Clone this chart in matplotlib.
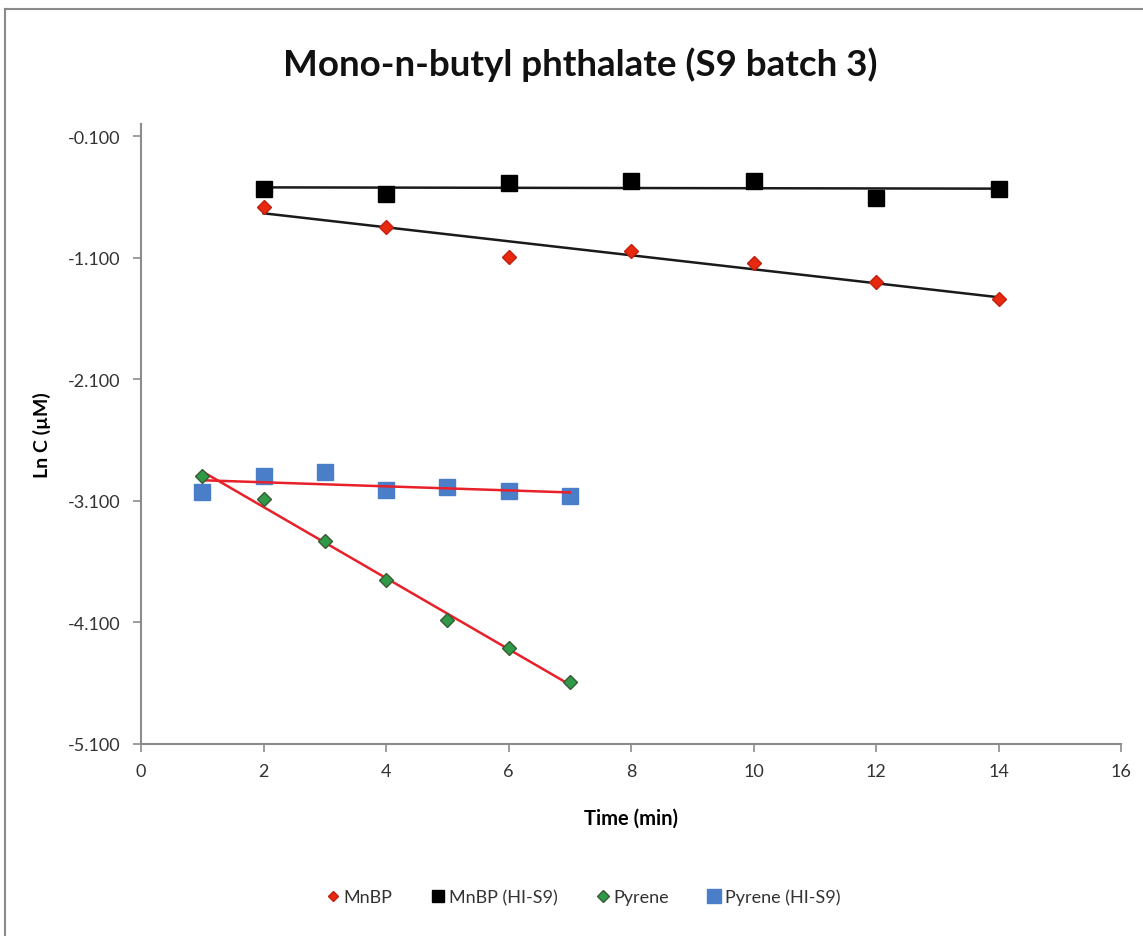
import numpy as np
import matplotlib
matplotlib.use("Agg")
import matplotlib.pyplot as plt
from matplotlib.lines import Line2D

plt.rcParams['font.family'] = ['Lato', 'DejaVu Sans']

# Time points (min)
t_mnbp = [2, 4, 6, 8, 10, 12, 14]
t_pyrene = [1, 2, 3, 4, 5, 6, 7]

# Ln C (uM) values
mnbp = [-0.684, -0.848, -1.095, -1.046, -1.144, -1.301, -1.440]
mnbp_hi = [-0.536, -0.577, -0.487, -0.470, -0.470, -0.610, -0.536]
pyrene = [-2.896, -3.085, -3.431, -3.751, -4.080, -4.311, -4.590]
pyrene_hi = [-3.028, -2.896, -2.863, -3.011, -2.986, -3.019, -3.061]

y_ticks = [-5.1, -4.1, -3.1, -2.1, -1.1, -0.1]
x_ticks = list(range(0, 17, 2))

fig = plt.figure(figsize=(11.43, 9.37), dpi=100)
ax = fig.add_axes([141 / 1143, 1 - 745 / 937, (1121 - 141) / 1143, (745 - 125) / 937])

# chart frame (top and left edges)
fig.add_artist(Line2D([5 / 1143, 1.0], [1 - 10 / 937] * 2, transform=fig.transFigure,
                      color='#8a8a8a', lw=1.5))
fig.add_artist(Line2D([5 / 1143] * 2, [0.0, 1 - 10 / 937], transform=fig.transFigure,
                      color='#8a8a8a', lw=1.5))


def trend(x, y, color):
    x = np.asarray(x, float)
    y = np.asarray(y, float)
    k, b = np.polyfit(x, y, 1)
    xs = np.array([x.min(), x.max()])
    ax.plot(xs, k * xs + b, color=color, lw=1.8, zorder=2)


trend(t_mnbp, mnbp, '#1a1a1a')
trend(t_mnbp, mnbp_hi, '#1a1a1a')
trend(t_pyrene, pyrene, '#e8202a')
trend(t_pyrene, pyrene_hi, '#e8202a')

ax.plot(t_mnbp, mnbp, 'D', ms=7, color='#e8290f', mec='#c02010', ls='none', zorder=3, label='MnBP')
ax.plot(t_mnbp, mnbp_hi, 's', ms=11, color='#000000', ls='none', zorder=3, label='MnBP (HI-S9)')
ax.plot(t_pyrene, pyrene, 'D', ms=7.5, color='#2e9a48', mec='#3a5a35', ls='none', zorder=3, label='Pyrene')
ax.plot(t_pyrene, pyrene_hi, 's', ms=12, color='#4a7ec8', ls='none', zorder=1, label='Pyrene (HI-S9)')

ax.set_xlim(0, 16)
ax.set_ylim(-5.1, 0)
ax.set_xticks(x_ticks)
ax.set_yticks(y_ticks)
ax.set_yticklabels([f'{v:.3f}' for v in y_ticks])

for s in ['top', 'right']:
    ax.spines[s].set_visible(False)
for s in ['left', 'bottom']:
    ax.spines[s].set_color('#8c8c8c')
    ax.spines[s].set_linewidth(1.5)
ax.tick_params(axis='both', direction='out', length=6, width=1.2, color='#8c8c8c',
               labelsize=13, labelcolor='#333333', pad=8)
ax.tick_params(axis='y', pad=9)

ax.set_xlabel('Time (min)', fontsize=14.5, fontweight='bold', labelpad=20)
ax.set_ylabel('Ln C (µM)', fontsize=14, fontweight='bold', labelpad=12)

fig.text(580 / 1143, 1 - 65 / 937, 'Mono-n-butyl phthalate (S9 batch 3)', ha='center', va='center',
         fontsize=26.5, fontweight='bold', color='#111111')

handles, labels = ax.get_legend_handles_labels()
leg = fig.legend(handles, labels, loc='center', bbox_to_anchor=(584 / 1143, 1 - 898 / 937), ncol=4,
                 frameon=False, fontsize=13, handlelength=0.6, handletextpad=0.3, columnspacing=2.2,
                 markerscale=0.8)
for txt in leg.get_texts():
    txt.set_color('#333333')

fig.savefig('out.png', dpi=100)
